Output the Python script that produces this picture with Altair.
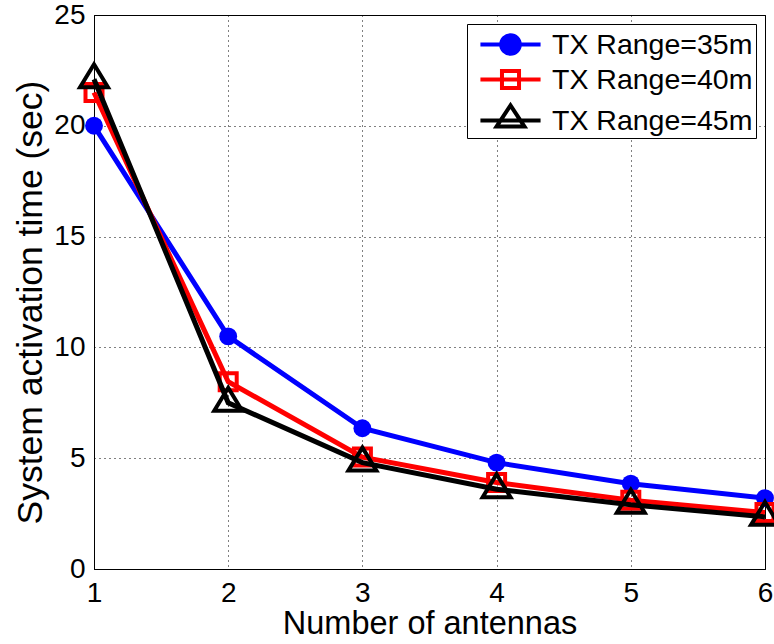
import altair as alt
import pandas as pd

antennas = [1, 2, 3, 4, 5, 6]
series_names = ["TX Range=35m", "TX Range=40m", "TX Range=45m"]
r35 = [20.0, 10.5, 6.35, 4.8, 3.85, 3.2]
r40 = [21.5, 8.45, 5.05, 3.9, 3.1, 2.55]
r45 = [22.1, 7.5, 4.8, 3.6, 2.9, 2.35]
colors = ["#0000ff", "#ff0000", "#000000"]
y_ticks = [0, 5, 10, 15, 20, 25]

rows = []
for name, vals in zip(series_names, [r35, r40, r45]):
    for a, v in zip(antennas, vals):
        rows.append({"antennas": a, "time": v, "series": name})
df = pd.DataFrame(rows)

FONT = "Liberation Sans"

tri_path = "M0,-1L0.93,0.53L-0.93,0.53Z"
leg_circle = "M-1.94,0H1.94M-0.6,0A0.6,0.6,0,1,1,0.6,0A0.6,0.6,0,1,1,-0.6,0Z"
leg_square = "M-1.94,0H1.94M-0.55,-0.55H0.55V0.55H-0.55Z"
leg_tri = "M-1.94,0H1.94M0,-0.97L0.9,0.39L-0.9,0.39Z"

shape_sig = (
    f"datum.label === '{series_names[0]}' ? '{leg_circle}' : "
    f"datum.label === '{series_names[1]}' ? '{leg_square}' : '{leg_tri}'"
)
fill_sig = f"datum.label === '{series_names[0]}' ? '{colors[0]}' : 'transparent'"
stroke_sig = (
    f"datum.label === '{series_names[0]}' ? '{colors[0]}' : "
    f"datum.label === '{series_names[1]}' ? '{colors[1]}' : '{colors[2]}'"
)

legend = alt.Legend(
    title=None,
    orient="top-right",
    offset=9,
    padding=3,
    rowPadding=0,
    symbolSize=961,
    symbolStrokeWidth=4,
    symbolOffset=23,
    labelOffset=24,
    labelFont=FONT,
    labelFontSize=28.5,
    labelColor="black",
    labelLimit=400,
    strokeColor="black",
    fillColor="white",
    cornerRadius=0,
    symbolType=alt.ExprRef(shape_sig),
    symbolFillColor=alt.ExprRef(fill_sig),
    symbolStrokeColor=alt.ExprRef(stroke_sig),
    symbolOpacity=1,
)

x_enc = alt.X(
    "antennas:Q",
    scale=alt.Scale(domain=[1, 6], nice=False, zero=False),
    axis=alt.Axis(values=antennas, format="d", title="Number of antennas",
                  labelFlush=False),
)
y_enc = alt.Y(
    "time:Q",
    scale=alt.Scale(domain=[0, 25], nice=False),
    axis=alt.Axis(values=y_ticks, title="System activation time (sec)", titleY=287,
                  labelFlush=False),
)
color_enc = alt.Color(
    "series:N",
    scale=alt.Scale(domain=series_names, range=colors),
    legend=legend,
)

base = alt.Chart(df)
layers = []
for i, name in enumerate(series_names):
    sub = base.transform_filter(alt.datum.series == name)
    layers.append(
        sub.mark_line(strokeWidth=5).encode(x=x_enc, y=y_enc, color=color_enc)
    )
    if i == 0:
        pt = sub.mark_point(shape="circle", filled=True, size=320, opacity=1, color=colors[0])
    elif i == 1:
        pt = sub.mark_point(shape="square", filled=False, size=289, strokeWidth=4,
                            opacity=1, color=colors[1])
    else:
        pt = sub.mark_point(shape=tri_path, filled=False, size=900, strokeWidth=4,
                            opacity=1, color=colors[2])
    layers.append(pt.encode(x=x_enc, y=y_enc))

chart = (
    alt.layer(*layers)
    .properties(
        width=671,
        height=554,
        autosize=alt.AutoSizeParams(type="none"),
        padding={"left": 94, "top": 15, "right": 9, "bottom": 75},
        background="white",
    )
    .configure_view(stroke="black", strokeWidth=1)
    .configure_axis(
        grid=True,
        gridColor="black",
        gridDash=[1, 4],
        gridWidth=1,
        gridOpacity=1,
        domainColor="black",
        domainWidth=1,
        ticks=False,
        labelFont=FONT,
        labelFontSize=28,
        labelColor="black",
        titleFont=FONT,
        titleFontWeight="normal",
        titleColor="black",
    )
    .configure_axisX(labelPadding=10, titleFontSize=32.5, titlePadding=0)
    .configure_axisY(labelPadding=9, titleFontSize=35.5, titlePadding=5)
)

chart.save("out.html", embed_options={"renderer": "svg", "actions": False})
